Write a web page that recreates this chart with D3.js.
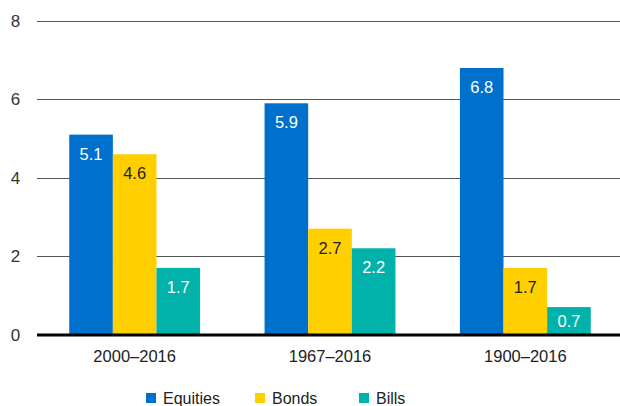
<!DOCTYPE html>
<html>
<head>
<meta charset="utf-8">
<script src="https://cdn.jsdelivr.net/npm/d3@7"></script>
<style>
  body { margin: 0; background: #fff; }
  svg { display: block; font-family: "Liberation Sans", Arial, sans-serif; }
</style>
</head>
<body>
<div id="chart-area"></div>
<script>
const periods = ["2000–2016", "1967–2016", "1900–2016"];
const seriesNames = ["Equities", "Bonds", "Bills"];
const equities = [5.1, 5.9, 6.8];
const bonds = [4.6, 2.7, 1.7];
const bills = [1.7, 2.2, 0.7];
const yTicks = [0, 2, 4, 6, 8];

const colors = { Equities: "#0070cd", Bonds: "#ffcf00", Bills: "#00b2a9" };
const labelColors = { Equities: "#ffffff", Bonds: "#222222", Bills: "#ffffff" };

const seriesValues = { Equities: equities, Bonds: bonds, Bills: bills };
const rows = periods.map((p, i) => ({
  period: p,
  values: seriesNames.map(s => ({ key: s, value: seriesValues[s][i] }))
}));

const drawChart = () => {
  const chartSize = { width: 620, height: 406 };

  const svg = d3
    .select("#chart-area")
    .append("svg")
    .attr("width", chartSize.width)
    .attr("height", chartSize.height);

  const y = d3.scaleLinear().domain([0, 8]).range([334.5, 21]);

  const x = d3
    .scaleBand()
    .domain(periods)
    .range([37, 623])
    .paddingInner(0.33)
    .paddingOuter(0.165);

  const xInner = d3
    .scaleBand()
    .domain(seriesNames)
    .range([0, x.bandwidth()]);

  // grid lines + y labels
  svg
    .append("g")
    .selectAll("line")
    .data(yTicks.filter(t => t > 0))
    .enter()
    .append("line")
    .attr("x1", 37)
    .attr("x2", 620)
    .attr("y1", d => Math.round(y(d)) + 0.5)
    .attr("y2", d => Math.round(y(d)) + 0.5)
    .attr("stroke", "#555")
    .attr("stroke-width", 1);

  svg
    .append("g")
    .selectAll("text")
    .data(yTicks)
    .enter()
    .append("text")
    .attr("x", 15.5)
    .attr("y", d => y(d) + 6)
    .attr("text-anchor", "middle")
    .attr("font-size", 17)
    .attr("fill", "#333")
    .text(d => d);

  const groups = svg
    .append("g")
    .selectAll("g")
    .data(rows)
    .enter()
    .append("g")
    .attr("transform", d => `translate(${x(d.period)},0)`);

  groups
    .selectAll("rect")
    .data(d => d.values)
    .enter()
    .append("rect")
    .attr("x", d => xInner(d.key))
    .attr("y", d => y(d.value))
    .attr("width", xInner.bandwidth())
    .attr("height", d => y(0) - y(d.value))
    .attr("fill", d => colors[d.key]);

  groups
    .selectAll("text.val")
    .data(d => d.values)
    .enter()
    .append("text")
    .attr("class", "val")
    .attr("x", d => xInner(d.key) + xInner.bandwidth() / 2)
    .attr("y", d => Math.min(y(d.value) + 25, y(0) - 8))
    .attr("text-anchor", "middle")
    .attr("font-size", 16.5)
    .attr("fill", d => labelColors[d.key])
    .text(d => d.value.toFixed(1));

  // zero line
  svg
    .append("line")
    .attr("x1", 37)
    .attr("x2", 620)
    .attr("y1", 335)
    .attr("y2", 335)
    .attr("stroke", "#000")
    .attr("stroke-width", 3);

  // category labels
  svg
    .append("g")
    .selectAll("text")
    .data(periods)
    .enter()
    .append("text")
    .attr("x", d => x(d) + x.bandwidth() / 2)
    .attr("y", 362)
    .attr("text-anchor", "middle")
    .attr("font-size", 16.5)
    .attr("fill", "#222")
    .text(d => d);

  // legend
  const legendX = { Equities: 146, Bonds: 255, Bills: 359 };
  const legend = svg
    .append("g")
    .selectAll("g")
    .data(seriesNames)
    .enter()
    .append("g")
    .attr("transform", d => `translate(${legendX[d]},393)`);

  legend
    .append("rect")
    .attr("width", 10)
    .attr("height", 10)
    .attr("fill", d => colors[d]);

  legend
    .append("text")
    .attr("x", 17)
    .attr("y", 11)
    .attr("font-size", 16)
    .attr("fill", "#222")
    .text(d => d);
};

drawChart();
</script>
</body>
</html>
